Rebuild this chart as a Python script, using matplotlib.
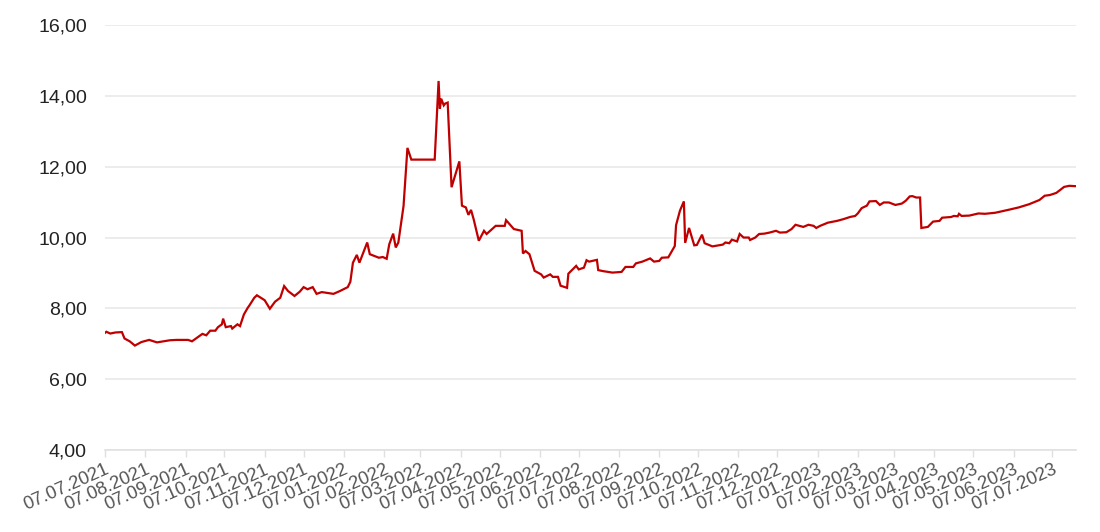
import matplotlib
matplotlib.use("Agg")
import matplotlib.pyplot as plt
import matplotlib.dates as mdates
from matplotlib.ticker import FuncFormatter
import pandas as pd

dates = [
    "2021-07-07", "2021-07-08", "2021-07-11", "2021-07-15", "2021-07-20", "2021-07-22",
    "2021-07-26", "2021-07-30", "2021-08-04", "2021-08-10", "2021-08-16", "2021-08-21",
    "2021-08-26", "2021-08-31", "2021-09-09", "2021-09-12", "2021-09-15", "2021-09-20",
    "2021-09-23", "2021-09-26", "2021-09-30", "2021-10-02", "2021-10-05", "2021-10-06",
    "2021-10-08", "2021-10-12", "2021-10-13", "2021-10-17", "2021-10-19", "2021-10-22",
    "2021-10-25", "2021-10-26", "2021-10-30", "2021-11-01", "2021-11-07", "2021-11-11",
    "2021-11-15", "2021-11-19", "2021-11-22", "2021-11-25", "2021-11-30", "2021-12-04",
    "2021-12-07", "2021-12-10", "2021-12-14", "2021-12-17", "2021-12-21", "2021-12-30",
    "2022-01-04", "2022-01-10", "2022-01-12", "2022-01-14", "2022-01-17", "2022-01-19",
    "2022-01-25", "2022-01-27", "2022-02-03", "2022-02-06", "2022-02-09", "2022-02-11",
    "2022-02-14", "2022-02-16", "2022-02-18", "2022-02-22", "2022-02-25", "2022-02-28",
    "2022-03-18", "2022-03-21", "2022-03-22", "2022-03-23", "2022-03-25", "2022-03-26",
    "2022-03-28", "2022-03-31", "2022-04-06", "2022-04-08", "2022-04-11", "2022-04-13",
    "2022-04-15", "2022-04-17", "2022-04-21", "2022-04-25", "2022-04-27", "2022-05-04",
    "2022-05-11", "2022-05-12", "2022-05-18", "2022-05-24", "2022-05-25", "2022-05-27",
    "2022-05-30", "2022-06-03", "2022-06-08", "2022-06-10", "2022-06-15", "2022-06-17",
    "2022-06-21", "2022-06-23", "2022-06-28", "2022-06-29", "2022-07-05", "2022-07-07",
    "2022-07-11", "2022-07-13", "2022-07-15", "2022-07-21", "2022-07-22", "2022-07-26",
    "2022-08-02", "2022-08-09", "2022-08-12", "2022-08-18", "2022-08-20", "2022-08-25",
    "2022-08-31", "2022-09-03", "2022-09-07", "2022-09-09", "2022-09-14", "2022-09-19",
    "2022-09-20", "2022-09-23", "2022-09-26", "2022-09-27", "2022-09-30", "2022-10-04",
    "2022-10-06", "2022-10-10", "2022-10-12", "2022-10-18", "2022-10-26", "2022-10-28",
    "2022-10-31", "2022-11-02", "2022-11-06", "2022-11-08", "2022-11-11", "2022-11-15",
    "2022-11-16", "2022-11-20", "2022-11-23", "2022-11-27", "2022-12-01", "2022-12-06",
    "2022-12-09", "2022-12-14", "2022-12-18", "2022-12-21", "2022-12-24", "2022-12-27",
    "2022-12-31", "2023-01-04", "2023-01-06", "2023-01-09", "2023-01-15", "2023-01-22",
    "2023-01-27", "2023-02-01", "2023-02-05", "2023-02-07", "2023-02-10", "2023-02-14",
    "2023-02-16", "2023-02-21", "2023-02-24", "2023-02-27", "2023-03-03", "2023-03-08",
    "2023-03-13", "2023-03-16", "2023-03-19", "2023-03-21", "2023-03-24", "2023-03-27",
    "2023-03-28", "2023-04-02", "2023-04-06", "2023-04-11", "2023-04-13", "2023-04-20",
    "2023-04-22", "2023-04-25", "2023-04-26", "2023-04-28", "2023-05-04", "2023-05-11",
    "2023-05-16", "2023-05-24", "2023-05-29", "2023-06-04", "2023-06-11", "2023-06-19",
    "2023-06-27", "2023-07-01", "2023-07-05", "2023-07-10", "2023-07-16", "2023-07-20",
    "2023-07-25",
]

values = [
    7.31, 7.34, 7.29, 7.32, 7.33, 7.15,
    7.07, 6.95, 7.05, 7.11, 7.04, 7.07,
    7.10, 7.11, 7.11, 7.07, 7.15, 7.28,
    7.24, 7.37, 7.37, 7.47, 7.55, 7.71,
    7.47, 7.50, 7.43, 7.55, 7.50, 7.83,
    8.02, 8.07, 8.30, 8.37, 8.23, 7.99,
    8.19, 8.30, 8.63, 8.49, 8.35, 8.47,
    8.60, 8.54, 8.60, 8.41, 8.46, 8.41,
    8.49, 8.60, 8.75, 9.29, 9.51, 9.29,
    9.86, 9.53, 9.43, 9.45, 9.40, 9.81,
    10.11, 9.72, 9.86, 10.89, 12.53, 12.20,
    12.20, 14.42, 13.64, 13.92, 13.73, 13.78,
    13.81, 11.42, 12.15, 10.90, 10.85, 10.64,
    10.78, 10.52, 9.91, 10.19, 10.10, 10.33,
    10.33, 10.49, 10.24, 10.19, 9.55, 9.62,
    9.53, 9.06, 8.96, 8.87, 8.96, 8.89,
    8.89, 8.64, 8.58, 8.98, 9.20, 9.10,
    9.15, 9.36, 9.32, 9.37, 9.08, 9.05,
    9.01, 9.03, 9.17, 9.17, 9.27, 9.32,
    9.41, 9.32, 9.34, 9.43, 9.44, 9.76,
    10.35, 10.76, 11.02, 9.85, 10.27, 9.78,
    9.79, 10.08, 9.84, 9.75, 9.80, 9.86,
    9.84, 9.94, 9.89, 10.10, 10.00, 10.00,
    9.93, 10.00, 10.10, 10.11, 10.14, 10.19,
    10.14, 10.15, 10.24, 10.36, 10.33, 10.30,
    10.36, 10.33, 10.27, 10.33, 10.42, 10.47,
    10.52, 10.58, 10.61, 10.68, 10.83, 10.90,
    11.02, 11.03, 10.92, 10.99, 10.99, 10.92,
    10.96, 11.04, 11.16, 11.17, 11.13, 11.13,
    10.27, 10.30, 10.45, 10.47, 10.56, 10.58,
    10.61, 10.60, 10.67, 10.61, 10.62, 10.68,
    10.67, 10.70, 10.74, 10.79, 10.85, 10.94,
    11.06, 11.18, 11.20, 11.26, 11.43, 11.46,
    11.45,
]

y_ticks = [4, 6, 8, 10, 12, 14, 16]
x_start = "2021-07-07"
x_end = "2023-07-25"

plt.rcParams['font.family'] = ['Liberation Sans', 'DejaVu Sans']

fig = plt.figure(figsize=(11, 5.32), dpi=100)
ax = fig.add_axes([0.0955, 0.154, 0.8825, 0.799])

x = pd.to_datetime(dates)
ax.plot(x, values, color="#c00000", lw=1.6, solid_joinstyle="miter")

ax.set_ylim(4, 16)
ax.set_yticks(y_ticks)
ax.yaxis.set_major_formatter(FuncFormatter(lambda v, p: f"{v:.2f}".replace(".", ",")))
ax.set_xlim(pd.Timestamp(x_start), pd.Timestamp(x_end))
ax.xaxis.set_major_locator(mdates.MonthLocator(bymonthday=7))
ax.xaxis.set_major_formatter(mdates.DateFormatter("%d.%m.%Y"))

ax.grid(axis="y", color="#ebebeb", lw=1.3)
ax.set_axisbelow(True)
for s in ["left", "right", "top"]:
    ax.spines[s].set_visible(False)
ax.spines["bottom"].set_color("#e0e0e0")
ax.spines["bottom"].set_linewidth(1.2)

ax.tick_params(axis="y", length=0, labelsize=14, labelcolor="#222222", pad=13)
ax.tick_params(axis="x", length=5, width=1, color="#e0e0e0", labelsize=13.2,
               labelcolor="#555555", pad=3)
for lab in ax.get_xticklabels():
    lab.set_rotation(24)
    lab.set_ha("right")
    lab.set_va("top")
    lab.set_rotation_mode("anchor")

fig.savefig("out.png", dpi=100)
